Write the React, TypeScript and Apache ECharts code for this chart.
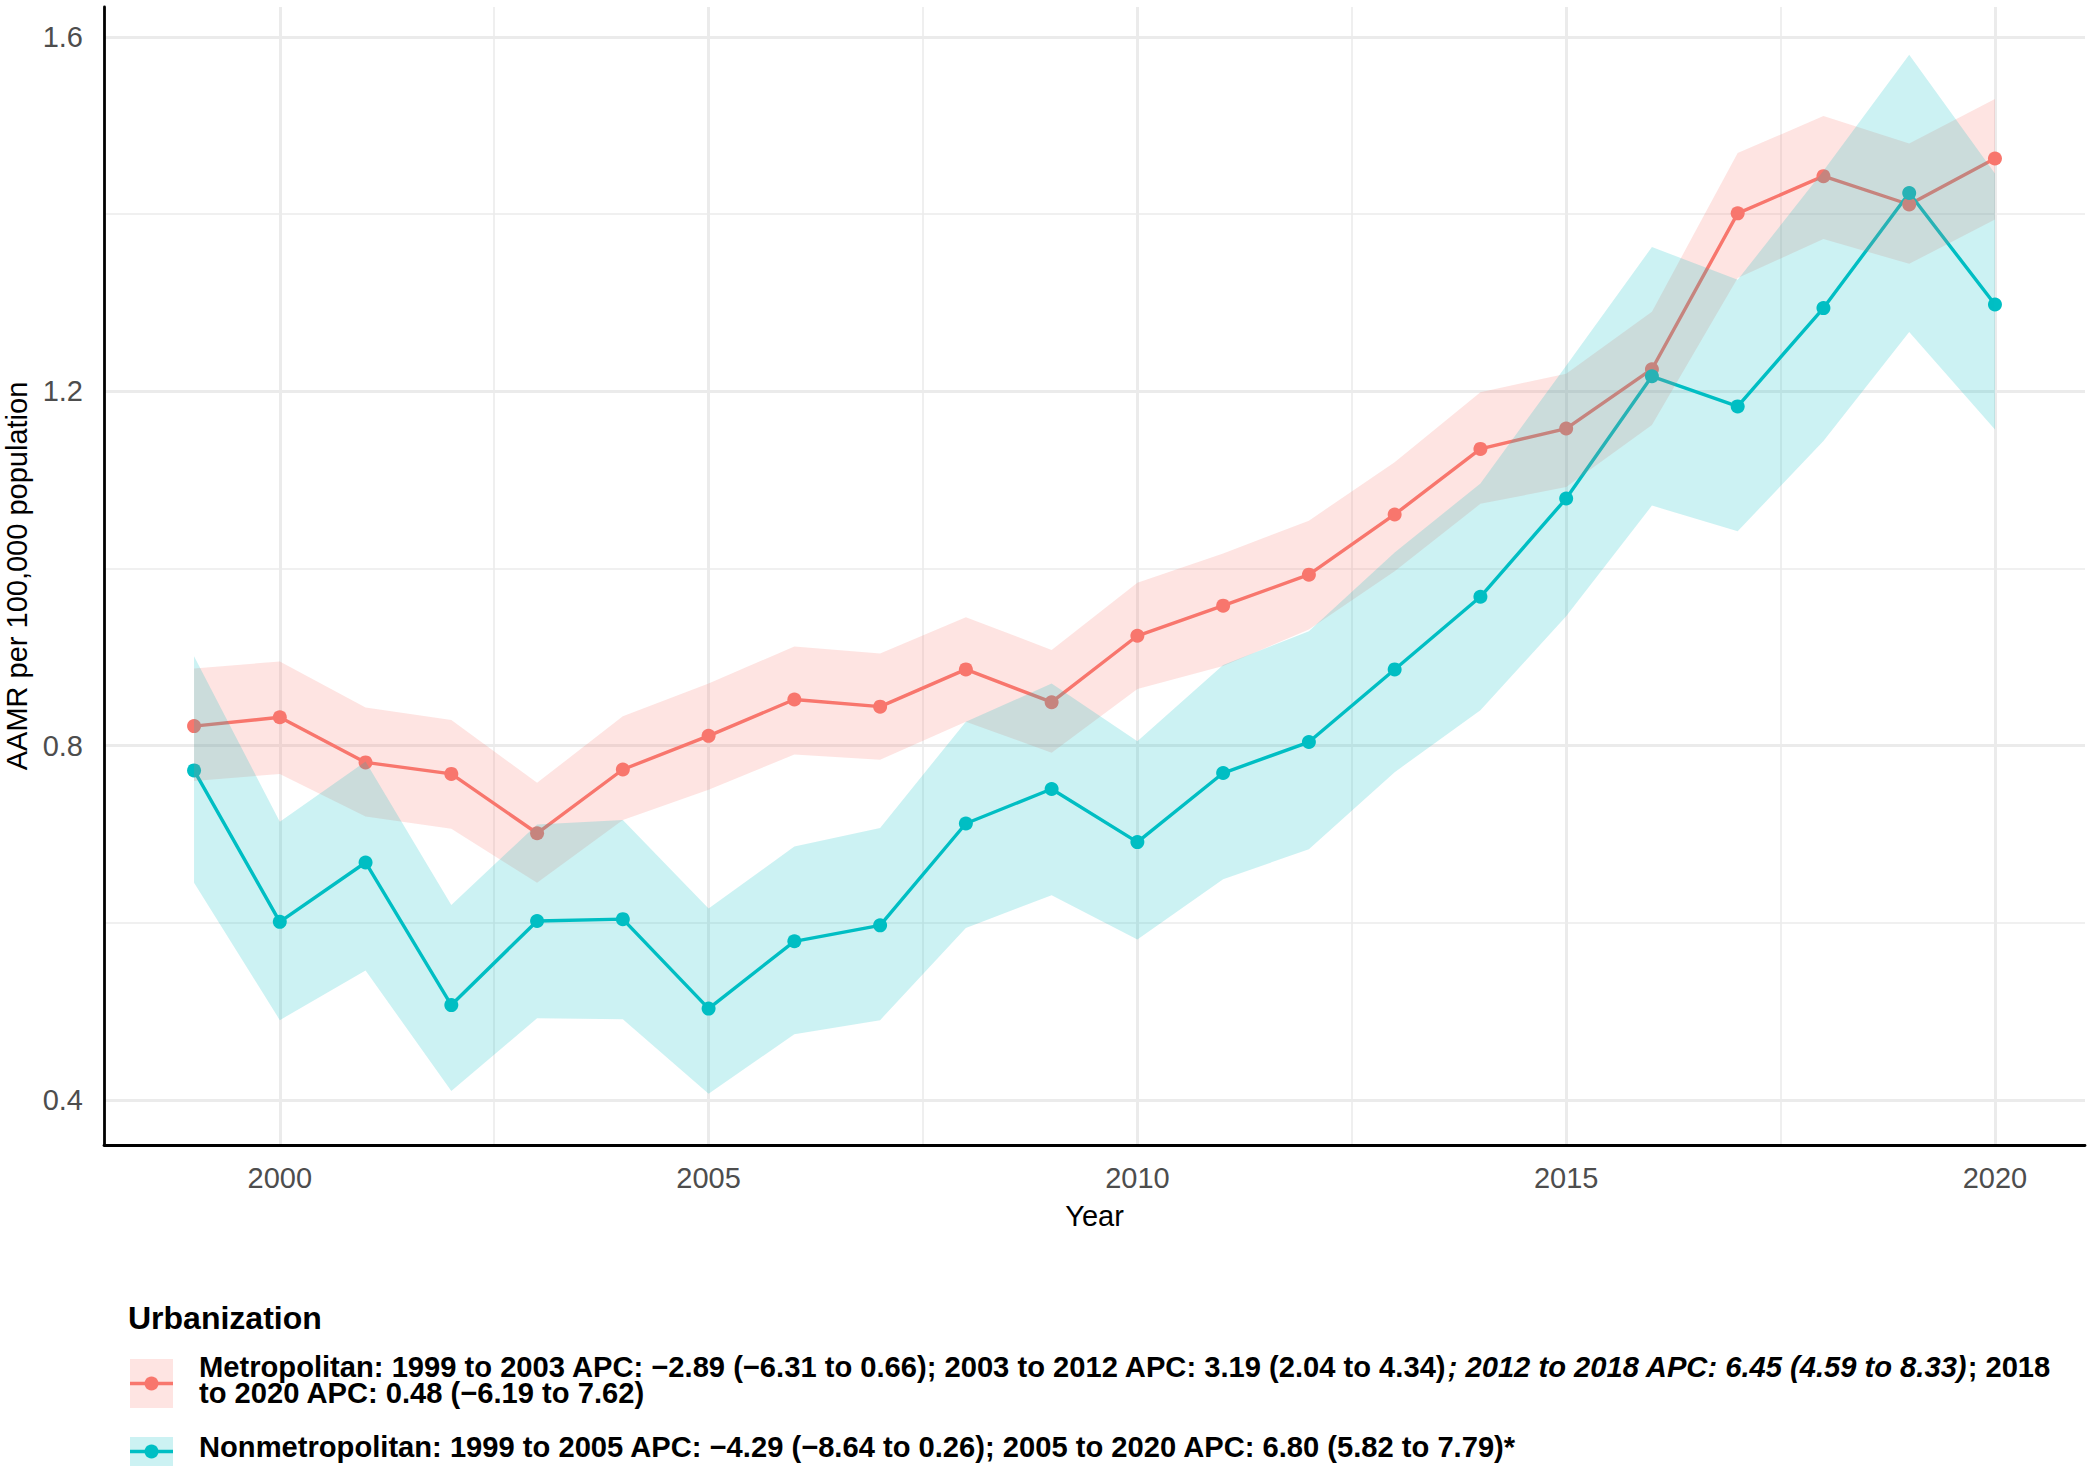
import React, { useEffect, useRef } from "react";
import * as echarts from "echarts";

// ---------- data ----------
const years = [1999, 2000, 2001, 2002, 2003, 2004, 2005, 2006, 2007, 2008, 2009, 2010, 2011, 2012, 2013, 2014, 2015, 2016, 2017, 2018, 2019, 2020];

const metro = [0.822, 0.832, 0.781, 0.768, 0.701, 0.773, 0.811, 0.852, 0.844, 0.886, 0.849, 0.924, 0.958, 0.993, 1.061, 1.135, 1.158, 1.225, 1.401, 1.443, 1.411, 1.463];
const metroUpper = [0.887, 0.895, 0.843, 0.829, 0.758, 0.833, 0.870, 0.912, 0.904, 0.945, 0.908, 0.984, 1.017, 1.054, 1.120, 1.199, 1.220, 1.290, 1.469, 1.511, 1.480, 1.530];
const metroLower = [0.760, 0.768, 0.720, 0.706, 0.645, 0.716, 0.750, 0.790, 0.784, 0.827, 0.792, 0.864, 0.890, 0.931, 0.997, 1.073, 1.092, 1.162, 1.328, 1.372, 1.344, 1.394];

const nonmetro = [0.772, 0.601, 0.668, 0.507, 0.602, 0.604, 0.503, 0.579, 0.597, 0.712, 0.751, 0.691, 0.769, 0.804, 0.886, 0.968, 1.079, 1.217, 1.183, 1.294, 1.424, 1.298];
const nonmetroUpper = [0.901, 0.714, 0.782, 0.620, 0.711, 0.716, 0.616, 0.686, 0.707, 0.827, 0.870, 0.805, 0.891, 0.929, 1.018, 1.096, 1.229, 1.363, 1.326, 1.449, 1.580, 1.446];
const nonmetroLower = [0.645, 0.490, 0.546, 0.410, 0.492, 0.491, 0.407, 0.474, 0.490, 0.594, 0.631, 0.581, 0.649, 0.683, 0.770, 0.840, 0.946, 1.071, 1.042, 1.144, 1.267, 1.157];

const xTickLabels = [2000, 2005, 2010, 2015, 2020];
const xMinorBreaks = [2002.5, 2007.5, 2012.5, 2017.5];
const yTickLabels = [0.4, 0.8, 1.2, 1.6];
const yMinorBreaks = [0.6, 1.0, 1.4];

const xTitle = "Year";
const yTitle = "AAMR per 100,000 population";
const legendTitle = "Urbanization";
const metroLabelLine1 = [
  "Metropolitan: 1999 to 2003 APC: \u22122.89 (\u22126.31 to 0.66); 2003 to 2012 APC: 3.19 (2.04 to 4.34)",
  "; 2012 to 2018 APC: 6.45 (4.59 to 8.33)",
  "; 2018",
];
const metroLabelLine2 = "to 2020 APC: 0.48 (\u22126.19 to 7.62)";
const nonmetroLabel = "Nonmetropolitan: 1999 to 2005 APC: \u22124.29 (\u22128.64 to 0.26); 2005 to 2020 APC: 6.80 (5.82 to 7.79)*";

const RED = "#F8766D";
const TEAL = "#00BFC4";
const RED_FILL = "rgba(248,118,109,0.2)";
const TEAL_FILL = "rgba(0,191,196,0.2)";
const FONT = "'Liberation Sans', Arial, Helvetica, sans-serif";
const LEG_FS = 29.15;

export default function App() {
  const ref = useRef<HTMLDivElement>(null);

  useEffect(() => {
    document.body.style.margin = "0";
    const chart = echarts.init(ref.current as HTMLDivElement, null, { renderer: "svg", width: 2088, height: 1470 });

    const pts = (vals: number[]) => years.map((y, i) => [y, vals[i]]);

    const gridLines = [
      ...yTickLabels.map((v) => ({ yAxis: v, lineStyle: { width: 3 } })),
      ...yMinorBreaks.map((v) => ({ yAxis: v, lineStyle: { width: 1.6 } })),
      ...xTickLabels.map((v) => ({ xAxis: v, lineStyle: { width: 3 } })),
      ...xMinorBreaks.map((v) => ({ xAxis: v, lineStyle: { width: 1.6 } })),
    ];

    const lineSeries = (name: string, vals: number[], color: string) => ({
      name,
      type: "line",
      data: pts(vals),
      z: 2,
      symbol: "circle",
      symbolSize: 14,
      showSymbol: true,
      itemStyle: { color },
      lineStyle: { color, width: 3.4 },
      silent: true,
    });

    const ribbonSeries = (lo: number[], hi: number[], fill: string, z: number) => ({
      type: "custom",
      z,
      silent: true,
      data: [[years[0], hi[0]]],
      renderItem: (_params: any, api: any) => {
        const upperPts = years.map((y, i) => api.coord([y, hi[i]]));
        const lowerPts = years.map((y, i) => api.coord([y, lo[i]])).reverse();
        return {
          type: "polygon",
          shape: { points: [...upperPts, ...lowerPts] },
          style: { fill },
        };
      },
    });

    const labelStyle = { fontFamily: FONT, fontSize: LEG_FS, fontWeight: "bold", fill: "#000" };

    const option = {
      animation: false,
      backgroundColor: "#fff",
      grid: { left: 104, right: 3, top: 7, bottom: 325, containLabel: false, outerBoundsMode: "none" },
      xAxis: {
        type: "value",
        min: 1997.95,
        max: 2021.05,
        axisLine: { show: true, onZero: false, lineStyle: { color: "#000", width: 2.8 } },
        axisTick: { show: false },
        splitLine: { show: false },
        axisLabel: {
          customValues: xTickLabels,
          fontSize: 29,
          color: "#4D4D4D",
          fontFamily: FONT,
          margin: 18,
          formatter: (v: number) => String(v),
        },
        name: xTitle,
        nameLocation: "middle",
        nameGap: 56,
        nameTextStyle: { fontSize: 29, color: "#000", fontFamily: FONT },
      },
      yAxis: {
        type: "value",
        min: 0.349,
        max: 1.634,
        axisLine: { show: true, onZero: false, lineStyle: { color: "#000", width: 2.8 } },
        axisTick: { show: false },
        splitLine: { show: false },
        axisLabel: {
          customValues: yTickLabels,
          fontSize: 29,
          color: "#4D4D4D",
          fontFamily: FONT,
          margin: 21,
          formatter: (v: number) => v.toFixed(1),
        },
        name: yTitle,
        nameLocation: "middle",
        nameGap: 73,
        nameTextStyle: { fontSize: 29, color: "#000", fontFamily: FONT },
      },
      series: [
        {
          type: "line",
          data: pts(metro),
          z: 0,
          symbol: "none",
          lineStyle: { opacity: 0, width: 0 },
          silent: true,
          markLine: {
            z: 0,
            silent: true,
            symbol: ["none", "none"],
            label: { show: false },
            lineStyle: { color: "#EBEBEB", type: "solid" },
            emphasis: { disabled: true },
            data: gridLines,
          },
        },
        lineSeries("Metropolitan", metro, RED),
        lineSeries("Nonmetropolitan", nonmetro, TEAL),
        ribbonSeries(metroLower, metroUpper, RED_FILL, 3),
        ribbonSeries(nonmetroLower, nonmetroUpper, TEAL_FILL, 4),
      ],
      graphic: [
        {
          type: "text",
          x: 128,
          y: 1318,
          style: { text: legendTitle, fontFamily: FONT, fontSize: 32, fontWeight: "bold", fill: "#000", verticalAlign: "middle" },
        },
        // key 1
        { type: "rect", shape: { x: 130, y: 1359, width: 43, height: 49 }, style: { fill: RED_FILL } },
        { type: "line", shape: { x1: 130, y1: 1383.5, x2: 173, y2: 1383.5 }, style: { stroke: RED, lineWidth: 3.4 } },
        { type: "circle", shape: { cx: 151.5, cy: 1383.5, r: 7 }, style: { fill: RED } },
        // key 2
        { type: "rect", shape: { x: 130, y: 1437, width: 43, height: 29 }, style: { fill: TEAL_FILL } },
        { type: "line", shape: { x1: 130, y1: 1451.5, x2: 173, y2: 1451.5 }, style: { stroke: TEAL, lineWidth: 3.4 } },
        { type: "circle", shape: { cx: 151.5, cy: 1451.5, r: 7 }, style: { fill: TEAL } },
        {
          type: "text",
          x: 199,
          y: 1354,
          style: {
            text: `{b|${metroLabelLine1[0]}}{i|${metroLabelLine1[1]}}{b|${metroLabelLine1[2]}}\n{b|${metroLabelLine2}}`,
            verticalAlign: "top",
            fontFamily: FONT,
            fontSize: LEG_FS,
            lineHeight: 26,
            fill: "#000",
            rich: {
              b: { fontFamily: FONT, fontSize: LEG_FS, lineHeight: 26, fontWeight: "bold", fill: "#000" },
              i: { fontFamily: FONT, fontSize: LEG_FS, lineHeight: 26, fontWeight: "bold", fontStyle: "italic", fill: "#000" },
            },
          },
        },
        {
          type: "text",
          x: 199,
          y: 1447,
          style: { ...labelStyle, text: nonmetroLabel, verticalAlign: "middle" },
        },
      ],
    };

    chart.setOption(option as any);
    return () => chart.dispose();
  }, []);

  return <div ref={ref} style={{ width: 2088, height: 1470, position: "absolute", left: 0, top: 0 }} />;
}
